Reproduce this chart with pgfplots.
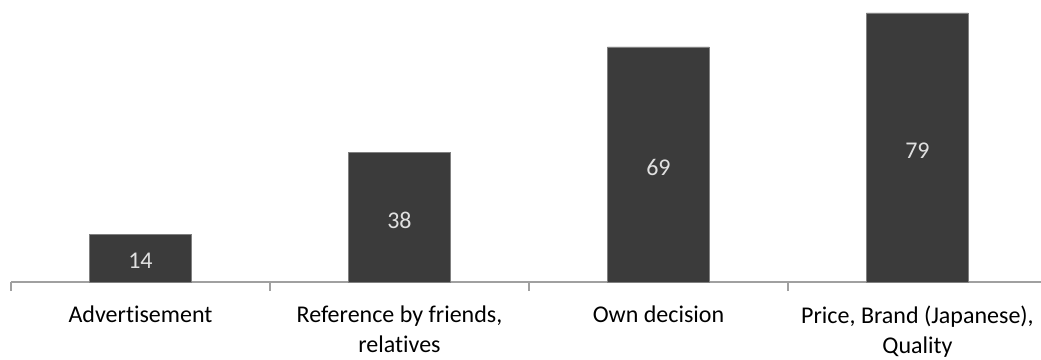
\documentclass[border=0pt]{standalone}
\usepackage{pgfplots}
\pgfplotsset{compat=1.18}
\usepackage{fontspec}
\setmainfont[Ligatures=NoCommon]{Carlito}
\definecolor{barfill}{HTML}{3B3B3B}
\definecolor{baredge}{HTML}{808080}
\definecolor{axisgray}{HTML}{A0A0A0}
\begin{document}
\fontsize{24pt}{30pt}\selectfont
\begin{tikzpicture}
\useasboundingbox (0,0) rectangle (1041pt,359pt);
\begin{axis}[
  at={(11pt,77pt)}, anchor=south west,
  scale only axis, width=1030pt, height=282pt,
  xmin=-0.5, xmax=3.477, ymin=0, ymax=82.8,
  /pgf/number format/assume math mode=true,
  axis y line=none, axis x line*=bottom,
  x axis line style={axisgray, line width=1.2pt},
  xtick={0,1,2,3},
  xticklabels={Advertisement,{Reference by friends,\\relatives},Own decision,{Price, Brand (Japanese),\\Quality}},
  major tick length=0pt,
  minor xtick={-0.5,0.5,1.5,2.5},
  minor tick length=9pt, tick align=outside,
  minor tick style={axisgray, line width=1.2pt},
  xticklabel style={align=center, font=\fontsize{24pt}{30pt}\selectfont, text=black, yshift=-16pt},
  ybar, bar width=0.394,
  nodes near coords,
  visualization depends on={rawy \as \rawy},
  every node near coord/.append style={anchor=center, text=white!88!black,
     font=\fontsize{24pt}{30pt}\selectfont,
     shift={(axis direction cs:0,-\rawy/2)}, yshift=-3pt},
]
\addplot[fill=barfill, draw=baredge, line width=0.8pt] coordinates {(0,14) (1,38) (2,69) (3,79)};
\end{axis}
\end{tikzpicture}
\end{document}
